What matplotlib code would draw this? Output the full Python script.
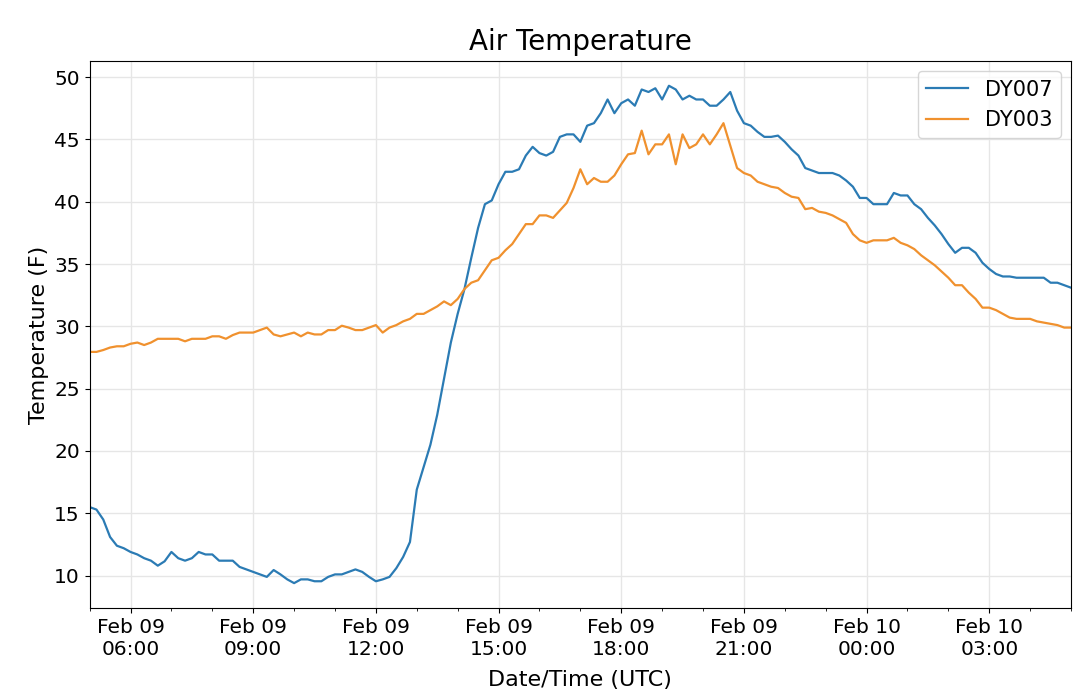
import numpy as np
import pandas as pd
import matplotlib
matplotlib.use('Agg')
import matplotlib.pyplot as plt
import matplotlib.dates as mdates

# 10-minute observations, Feb 09 05:00 UTC -> Feb 10 05:00 UTC
times = pd.date_range('2019-02-09 05:00', periods=145, freq='10min')

dy007 = [15.5, 15.3, 14.5, 13.1, 12.4, 12.2, 11.9, 11.7, 11.4, 11.2,
         10.8, 11.15, 11.9, 11.4, 11.2, 11.4, 11.9, 11.7, 11.7, 11.2,
         11.2, 11.2, 10.7, 10.5, 10.3, 10.1, 9.9, 10.45, 10.1, 9.7,
         9.4, 9.7, 9.7, 9.55, 9.55, 9.9, 10.1, 10.1, 10.3, 10.5,
         10.3, 9.9, 9.55, 9.7, 9.9, 10.6, 11.5, 12.7, 16.9, 18.7,
         20.5, 22.9, 25.8, 28.7, 31.0, 33.0, 35.5, 37.9, 39.8, 40.1,
         41.4, 42.4, 42.4, 42.6, 43.7, 44.4, 43.9, 43.7, 44.0, 45.2,
         45.4, 45.4, 44.8, 46.1, 46.3, 47.1, 48.2, 47.1, 47.9, 48.2,
         47.7, 49.0, 48.8, 49.1, 48.2, 49.3, 49.0, 48.2, 48.5, 48.2,
         48.2, 47.7, 47.7, 48.2, 48.8, 47.3, 46.3, 46.1, 45.6, 45.2,
         45.2, 45.3, 44.8, 44.2, 43.7, 42.7, 42.5, 42.3, 42.3, 42.3,
         42.1, 41.7, 41.2, 40.3, 40.3, 39.8, 39.8, 39.8, 40.7, 40.5,
         40.5, 39.8, 39.4, 38.7, 38.1, 37.4, 36.6, 35.9, 36.3, 36.3,
         35.9, 35.1, 34.6, 34.2, 34.0, 34.0, 33.9, 33.9, 33.9, 33.9,
         33.9, 33.5, 33.5, 33.3, 33.1]

dy003 = [27.95, 27.95, 28.1, 28.3, 28.4, 28.4, 28.6, 28.7, 28.5, 28.7,
         29.0, 29.0, 29.0, 29.0, 28.8, 29.0, 29.0, 29.0, 29.2, 29.2,
         29.0, 29.3, 29.5, 29.5, 29.5, 29.7, 29.9, 29.35, 29.2, 29.35,
         29.5, 29.2, 29.5, 29.35, 29.35, 29.7, 29.7, 30.05, 29.9, 29.7,
         29.7, 29.9, 30.1, 29.5, 29.9, 30.1, 30.4, 30.6, 31.0, 31.0,
         31.3, 31.6, 32.0, 31.7, 32.2, 33.0, 33.5, 33.7, 34.5, 35.3,
         35.5, 36.1, 36.6, 37.4, 38.2, 38.2, 38.9, 38.9, 38.7, 39.3,
         39.9, 41.1, 42.6, 41.4, 41.9, 41.6, 41.6, 42.1, 43.0, 43.8,
         43.9, 45.7, 43.8, 44.6, 44.6, 45.4, 43.0, 45.4, 44.3, 44.6,
         45.4, 44.6, 45.4, 46.3, 44.5, 42.7, 42.3, 42.1, 41.6, 41.4,
         41.2, 41.1, 40.7, 40.4, 40.3, 39.4, 39.5, 39.2, 39.1, 38.9,
         38.6, 38.3, 37.4, 36.9, 36.7, 36.9, 36.9, 36.9, 37.1, 36.7,
         36.5, 36.2, 35.7, 35.3, 34.9, 34.4, 33.9, 33.3, 33.3, 32.7,
         32.2, 31.5, 31.5, 31.3, 31.0, 30.7, 30.6, 30.6, 30.6, 30.4,
         30.3, 30.2, 30.1, 29.9, 29.9]

fig = plt.figure(figsize=(10.8, 6.92), dpi=100)
ax = fig.add_axes([0.083, 0.1214, 0.9087, 0.7906])

ax.plot(times, dy007, color='#2b7bb4', lw=1.6, label='DY007')
ax.plot(times, dy003, color='#f0912e', lw=1.6, label='DY003')

ax.set_xlim(times[0], times[-1])
ax.xaxis.set_major_locator(mdates.HourLocator(byhour=range(0, 24, 3)))
ax.xaxis.set_minor_locator(mdates.HourLocator())
ax.xaxis.set_major_formatter(mdates.DateFormatter('%b %d\n%H:%M'))
ax.grid(True, color='#e6e6e6', lw=1)
ax.set_axisbelow(True)

ax.tick_params(labelsize=14.5)
ax.set_title('Air Temperature', fontsize=20, pad=8)
ax.set_xlabel('Date/Time (UTC)', fontsize=16, labelpad=8)
ax.set_ylabel('Temperature (F)', fontsize=16)
ax.legend(loc='upper right', fontsize=15)

fig.savefig('out.png')
